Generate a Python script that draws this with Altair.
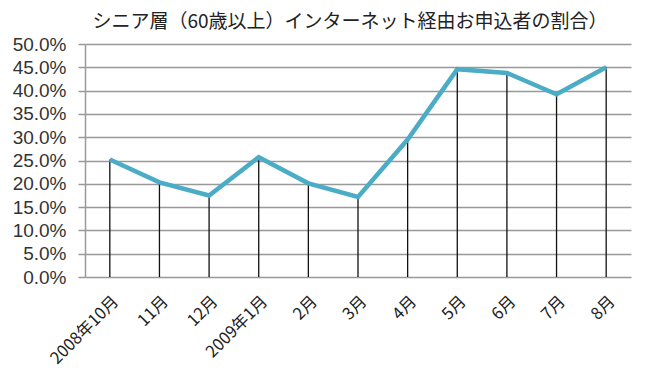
import altair as alt
import pandas as pd

months = ["2008年10月", "11月", "12月", "2009年1月", "2月", "3月", "4月", "5月", "6月", "7月", "8月"]
share = [0.252, 0.203, 0.175, 0.257, 0.201, 0.172, 0.295, 0.446, 0.438, 0.392, 0.450]
y_ticks = [0.0, 0.05, 0.10, 0.15, 0.20, 0.25, 0.30, 0.35, 0.40, 0.45, 0.50]
title_text = "シニア層（60歳以上）インターネット経由お申込者の割合）"

df = pd.DataFrame({"month": months, "share": share})

x_enc = alt.X(
    "month:N",
    sort=months,
    scale=alt.Scale(type="point", padding=0.5),
    axis=alt.Axis(
        title=None,
        labelAngle=-45,
        labelFont="Noto Sans CJK JP",
        labelFontSize=16.5,
        labelColor="#222",
        labelPadding=16,
        ticks=False,
        domain=False,
        grid=False,
    ),
)
y_enc = alt.Y(
    "share:Q",
    scale=alt.Scale(domain=[0, 0.5], nice=False),
    axis=alt.Axis(
        title=None,
        values=y_ticks,
        format=".1%",
        labelFont="Liberation Sans",
        labelFontSize=19,
        labelColor="#333",
        labelPadding=12,
        tickSize=7,
        tickColor="#999",
        tickWidth=1.5,
        domainColor="#999",
        domainWidth=1.5,
        gridColor="#999",
        gridWidth=1.5,
        grid=True,
    ),
)

rules = alt.Chart(df).mark_rule(color="#111", strokeWidth=1.3).encode(
    x=x_enc, y=y_enc, y2=alt.datum(0)
)
line = alt.Chart(df).mark_line(color="#4bacc6", strokeWidth=4.5, strokeJoin="miter").encode(
    x=x_enc, y=y_enc
)

chart = (
    alt.layer(rules, line)
    .properties(
        width=546,
        height=233,
        title=alt.Title(
            title_text,
            font="Noto Sans CJK JP",
            fontSize=19,
            fontWeight="normal",
            color="#222",
            frame="group",
            offset=3,
            dx=-8,
        ),
        autosize=alt.AutoSizeParams(type="none"),
        padding={"left": 77, "top": 36, "right": 11, "bottom": 90},
        background="white",
    )
    .configure_view(stroke=None)
)

chart.save("out.html", embed_options={"renderer": "svg", "actions": False})
